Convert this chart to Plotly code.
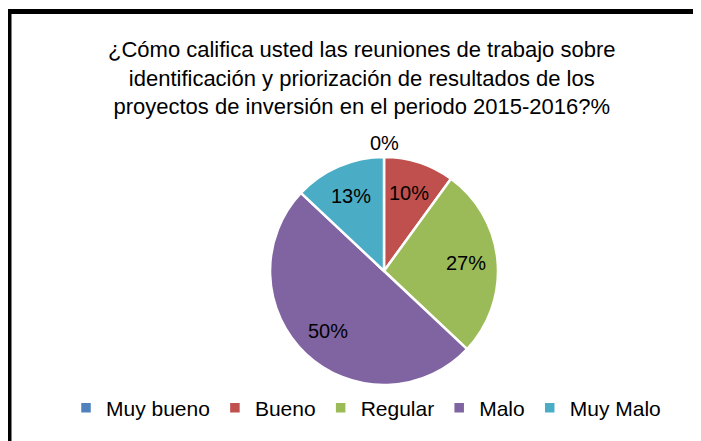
import math
import plotly.graph_objects as go

categories = ["Muy bueno", "Bueno", "Regular", "Malo", "Muy Malo"]
values = [0, 10, 27, 50, 13]
colors = ["#4F81BD", "#C0504D", "#9BBB59", "#8064A2", "#4BACC6"]
title_text = ("¿Cómo califica usted las reuniones de trabajo sobre<br>"
              "identificación y priorización de resultados de los<br>"
              "proyectos de inversión en el periodo 2015-2016?%")

W, H = 701, 441
OFF = 8  # page body margin offset
FONT = "Liberation Sans"


def px(x):
    return (x - OFF) / W


def py(y):
    return 1 - (y - OFF) / H


cx, cy, r = 384, 271, 114  # screen pixel geometry of the pie

fig = go.Figure(go.Pie(
    labels=categories,
    values=values,
    sort=False,
    direction="clockwise",
    rotation=0,
    marker=dict(colors=colors, line=dict(color="white", width=2.5)),
    textinfo="none",
    domain=dict(x=[px(cx - r), px(cx + r)], y=[py(cy + r), py(cy - r)]),
    hoverinfo="label+percent",
))

# data labels, placed along each slice's mid angle
total = sum(values)
cum = 0.0
for v in values:
    frac = v / total
    mid = (cum + frac / 2) * 2 * math.pi
    cum += frac
    rad = 0.72 * r if v > 0 else r + 14
    lx = cx + rad * math.sin(mid)
    ly = cy - rad * math.cos(mid)
    fig.add_annotation(x=px(lx), y=py(ly), xref="paper", yref="paper",
                       text=f"{round(frac * 100)}%", showarrow=False,
                       xanchor="center", yanchor="middle",
                       font=dict(family=FONT, size=20, color="black"))

fig.add_annotation(x=px(361.5), y=py(78), xref="paper", yref="paper",
                   text=title_text, showarrow=False, yanchor="middle", align="center",
                   font=dict(family=FONT, size=22, color="black"))

fig.add_shape(type="rect", xref="paper", yref="paper",
              x0=px(9), x1=1.1, y0=-0.1, y1=py(11.5),
              line=dict(color="black", width=5), fillcolor="rgba(0,0,0,0)")

fig.update_layout(
    width=W, height=H,
    margin=dict(l=0, r=0, t=0, b=0),
    paper_bgcolor="white",
    plot_bgcolor="white",
    showlegend=True,
    legend=dict(orientation="h", x=px(366), xanchor="center", y=py(408), yanchor="middle",
                font=dict(family=FONT, size=21, color="black"),
                traceorder="normal", itemwidth=30),
)

fig.write_html("out.html")
